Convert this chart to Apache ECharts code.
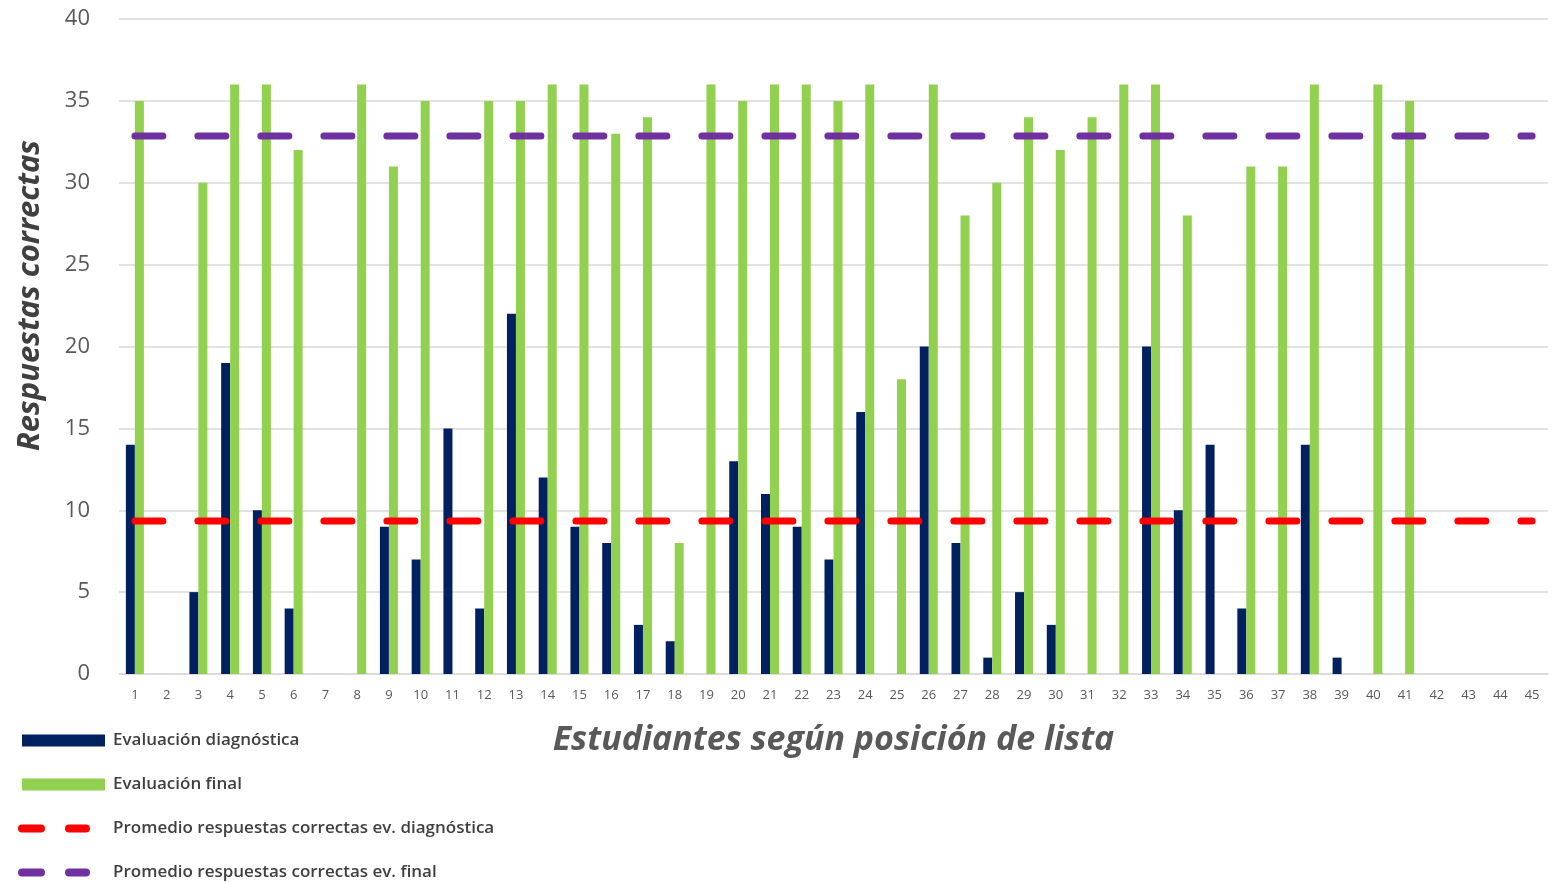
<!DOCTYPE html>
<html>
<head>
<meta charset="utf-8">
<script src="https://cdn.jsdelivr.net/npm/echarts@6/dist/echarts.min.js"></script>
<style>html,body{margin:0;padding:0;background:#fff}#c{width:1562px;height:882px}</style>
</head>
<body>
<div id="c"></div>
<script>
const categories = ['1','2','3','4','5','6','7','8','9','10','11','12','13','14','15','16','17','18','19','20','21','22','23','24','25','26','27','28','29','30','31','32','33','34','35','36','37','38','39','40','41','42','43','44','45'];
const evalDiagnostica = [14,0,5,19,10,4,0,0,9,7,15,4,22,12,9,8,3,2,0,13,11,9,7,16,0,20,8,1,5,3,0,0,20,10,14,4,0,14,1,0,0,0,0,0,0];
const evalFinal = [35,0,30,36,36,32,0,36,31,35,0,35,35,36,36,33,34,8,36,35,36,36,35,36,18,36,28,30,34,32,34,36,36,28,0,31,31,36,0,36,35,0,0,0,0];
const promedioDiagnostica = 9.34;
const promedioFinal = 32.86;
const yTicks = [0,5,10,15,20,25,30,35,40];
const seriesNames = ['Evaluación diagnóstica', 'Evaluación final', 'Promedio respuestas correctas ev. diagnóstica', 'Promedio respuestas correctas ev. final'];

const FONT = '"Open Sans", sans-serif';
const DASH_ICON = 'path://M4,0 H23 A4,4 0 0 1 23,8 H4 A4,4 0 0 1 4,0 Z M51,0 H68 A4,4 0 0 1 68,8 H51 A4,4 0 0 1 51,0 Z';
const legendText = {fontFamily: FONT, fontSize: 17, color: '#404040', fontWeight: 600};
function barLegend(name, top) {
  return {orient: 'vertical', left: 17, top: top, itemWidth: 83, itemHeight: 12, selectedMode: false,
    textStyle: Object.assign({padding: [0,0,0,3]}, legendText), data: [{name: name, icon: 'rect'}]};
}
function lineLegend(name, top) {
  return {orient: 'vertical', left: 13, top: top, itemWidth: 72, itemHeight: 8, selectedMode: false,
    textStyle: Object.assign({padding: [0,0,0,18]}, legendText), data: [{name: name, icon: DASH_ICON}]};
}

const chart = echarts.init(document.getElementById('c'));
chart.setOption({
  animation: false,
  backgroundColor: '#ffffff',
  grid: {left: 119, right: 14, top: 19, bottom: 208},
  legend: [
    barLegend(seriesNames[0], 727),
    barLegend(seriesNames[1], 771),
    lineLegend(seriesNames[2], 815),
    lineLegend(seriesNames[3], 859)
  ],
  graphic: [{
    type: 'text', left: 15, top: 140, rotation: Math.PI/2,
    style: {text: 'Respuestas correctas', font: 'italic bold 31px ' + FONT, fill: '#404040'}
  }],
  xAxis: {
    type: 'category', data: categories,
    name: 'Estudiantes según posición de lista', nameLocation: 'middle', nameGap: 49,
    nameTextStyle: {fontFamily: FONT, fontSize: 34, fontStyle: 'italic', fontWeight: 'bold', color: '#595959'},
    axisLine: {lineStyle: {color: '#d9d9d9', width: 1.5}},
    axisTick: {show: false},
    axisLabel: {fontFamily: FONT, fontSize: 13, color: '#595959', margin: 15, interval: 0}
  },
  yAxis: {
    type: 'value', min: yTicks[0], max: yTicks[yTicks.length-1], interval: 5,
    axisLine: {show: false}, axisTick: {show: false},
    axisLabel: {fontFamily: FONT, fontSize: 22, color: '#595959', margin: 29},
    splitLine: {lineStyle: {color: '#d9d9d9', width: 1.5}}
  },
  series: [
    {name: seriesNames[0], type: 'bar', data: evalDiagnostica, barWidth: 9, barGap: '0%', itemStyle: {color: '#002060'}},
    {name: seriesNames[1], type: 'bar', data: evalFinal, barWidth: 9, barGap: '0%', itemStyle: {color: '#92d050'}},
    {name: seriesNames[2], type: 'line', symbol: 'none',
     data: [[categories[0], promedioDiagnostica], [categories[categories.length-1], promedioDiagnostica]],
     itemStyle: {color: '#ff0000'},
     lineStyle: {color: '#ff0000', width: 7, type: [28, 35], cap: 'round'}, z: 5},
    {name: seriesNames[3], type: 'line', symbol: 'none',
     data: [[categories[0], promedioFinal], [categories[categories.length-1], promedioFinal]],
     itemStyle: {color: '#7030a0'},
     lineStyle: {color: '#7030a0', width: 7, type: [28, 35], cap: 'round'}, z: 5}
  ]
});
</script>
</body>
</html>
